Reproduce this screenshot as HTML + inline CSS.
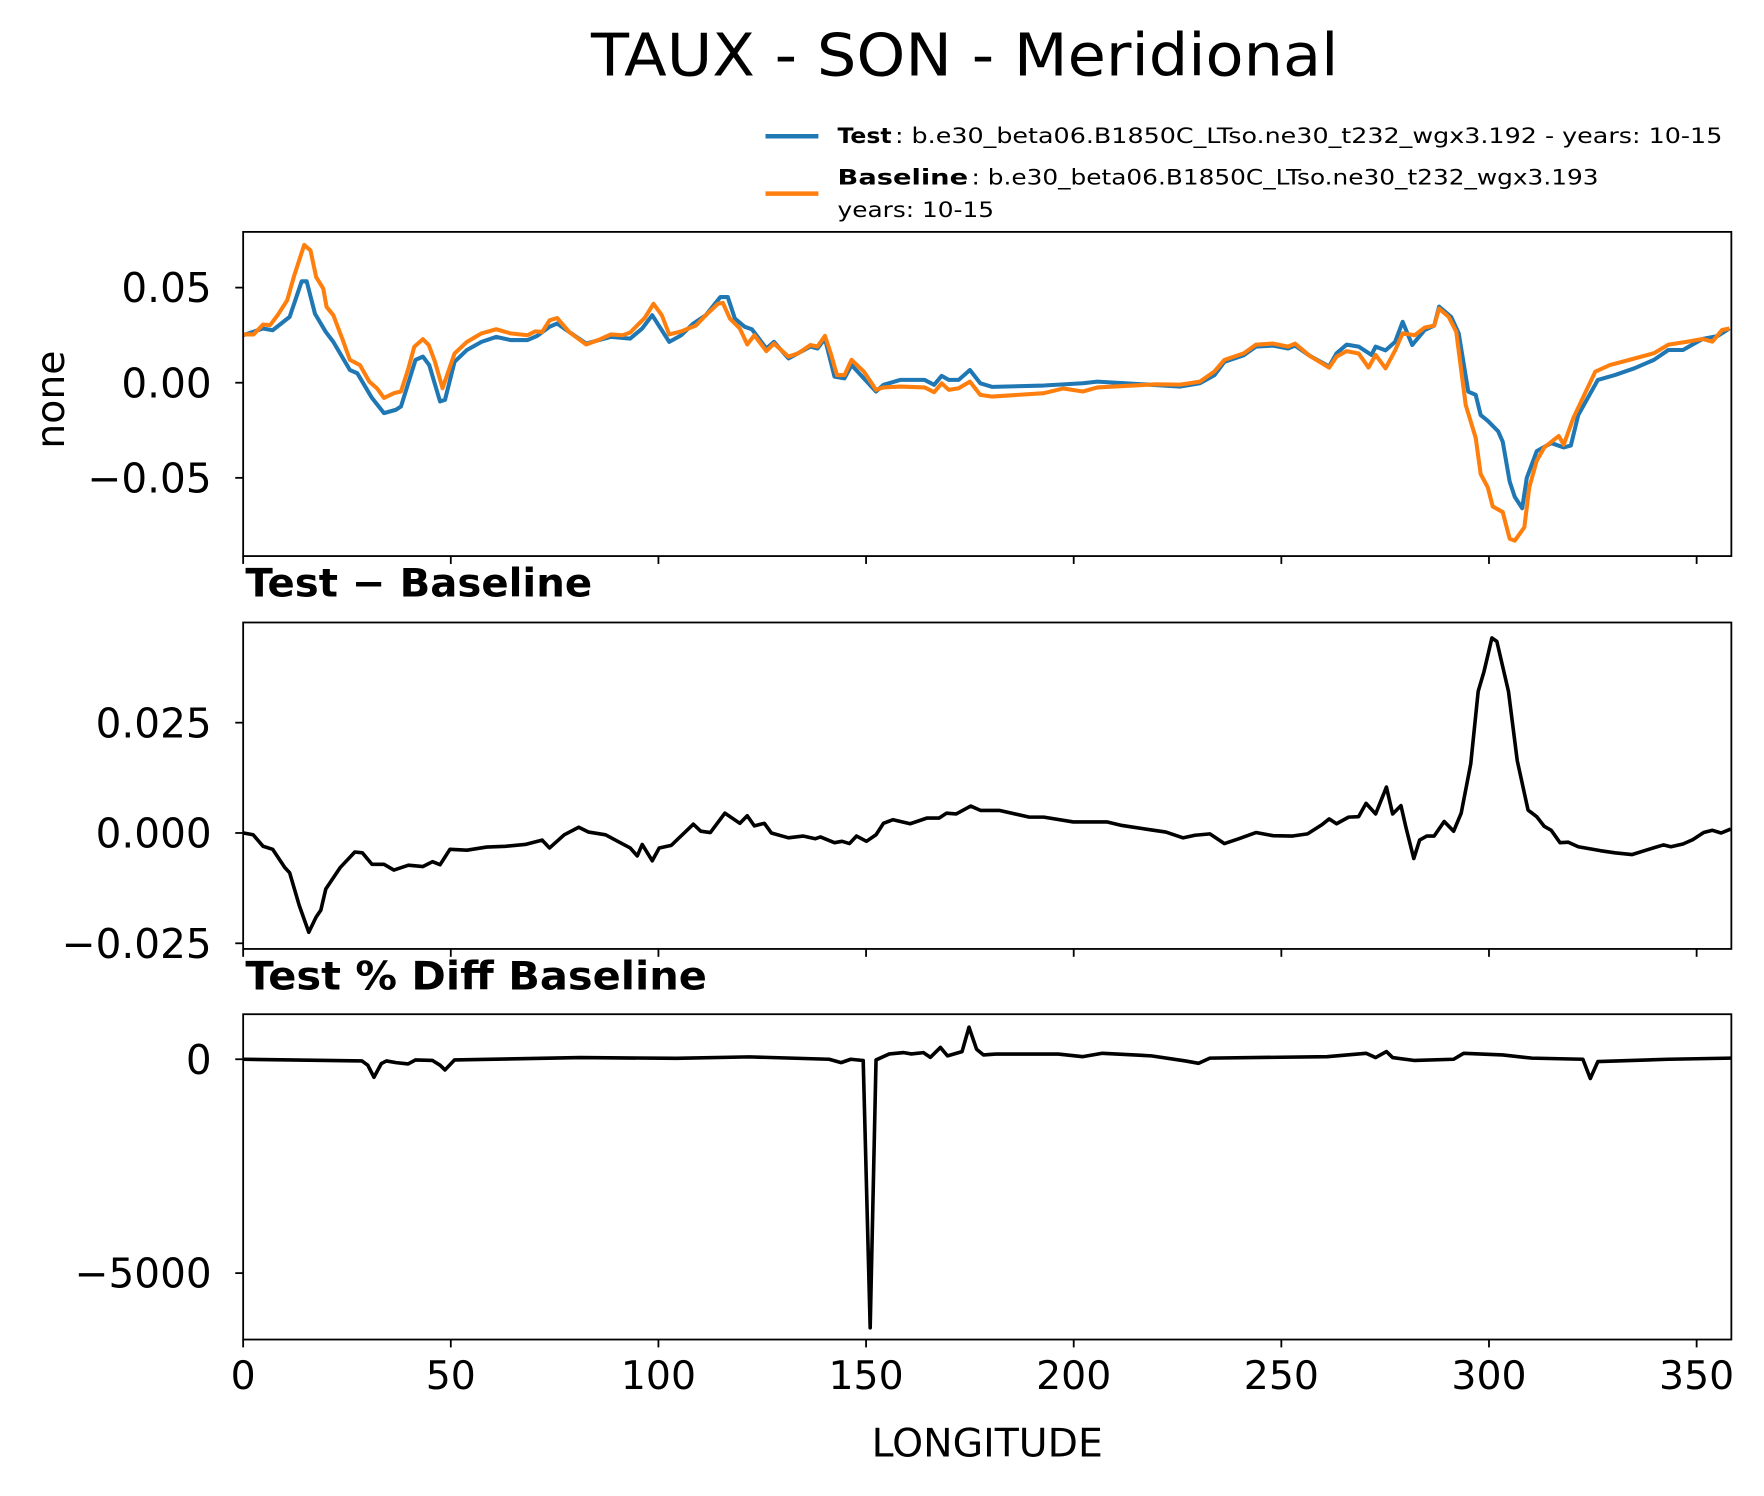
<!DOCTYPE html>
<html><head><meta charset="utf-8"><title>TAUX - SON - Meridional</title>
<style>html,body{margin:0;padding:0;background:#fff}svg{display:block;font-family:"DejaVu Sans","Liberation Sans",sans-serif}</style>
</head><body>
<svg id="fig" width="1764" height="1496" viewBox="0 0 1567 1329" preserveAspectRatio="none" xmlns="http://www.w3.org/2000/svg">
<rect x="0" y="0" width="1567" height="1329" fill="#fff"/>
<text x="857" y="67" font-size="52" text-anchor="middle" textLength="664" lengthAdjust="spacingAndGlyphs">TAUX - SON - Meridional</text>
<g>
<line x1="680" y1="121" x2="727" y2="121" stroke="#1f77b4" stroke-width="4"/>
<text x="744" y="127" font-size="19" font-weight="bold" textLength="48" lengthAdjust="spacingAndGlyphs">Test</text>
<text x="795" y="127" font-size="19" textLength="735" lengthAdjust="spacingAndGlyphs">: b.e30_beta06.B1850C_LTso.ne30_t232_wgx3.192 - years: 10-15</text>
<line x1="680" y1="172" x2="727" y2="172" stroke="#ff7f0e" stroke-width="4"/>
<text x="744" y="164" font-size="19" font-weight="bold" textLength="116" lengthAdjust="spacingAndGlyphs">Baseline</text>
<text x="863" y="164" font-size="19" textLength="557" lengthAdjust="spacingAndGlyphs">: b.e30_beta06.B1850C_LTso.ne30_t232_wgx3.193</text>
<text x="744" y="193" font-size="19" textLength="139" lengthAdjust="spacingAndGlyphs">years: 10-15</text>
</g>
<text transform="translate(57,355) rotate(-90)" font-size="35" text-anchor="middle">none</text>
<text x="218" y="530" font-size="35" font-weight="bold" textLength="308" lengthAdjust="spacingAndGlyphs">Test − Baseline</text>
<text x="218" y="879" font-size="35" font-weight="bold" textLength="410" lengthAdjust="spacingAndGlyphs">Test % Diff Baseline</text>
<text x="877" y="1294" font-size="35" text-anchor="middle">LONGITUDE</text>
<g id="plots"></g>
</svg>
<script>
// ---- data (longitude, value) ----
const testLon = [0,4.8,7.1,11.2,14.1,15.3,17.3,19.9,21.7,25.7,27.5,31,33.9,36.8,38,41.5,43.3,44.8,47.4,48.6,50.9,53.9,57.4,60.9,64.4,68.5,70.8,73.8,75.6,78.5,82.6,88.5,93.2,96.1,98.5,102.6,105.5,108.4,111.4,114.9,116.7,118.4,120.8,122.5,126,127.8,131.3,136.6,138.3,140.1,142.4,144.8,146.5,152.4,154.2,158.2,164.1,166.4,168.2,169.9,172.3,175,177.5,180.4,192.8,202.2,205.7,225.7,230.4,233.9,236.3,241,243.9,248,251.6,253.3,256.8,261.5,263.3,265.7,268.6,271.7,272.7,275.1,277.4,279.2,281.5,284.5,286.8,288,290.9,292.7,295,296.8,298,299.7,302.2,303.3,305,306.2,308,309.1,311.5,315,318,319.7,321.5,326.2,330.3,335,339.7,343.2,346.7,351.4,355,357.9];
const testVal = [0.025,0.0285,0.0276,0.0346,0.0533,0.0533,0.0363,0.0267,0.0215,0.0067,0.005,-0.008,-0.016,-0.0142,-0.0125,0.012,0.0137,0.0093,-0.0098,-0.009,0.011,0.0172,0.0215,0.0241,0.0224,0.0224,0.0246,0.0294,0.0311,0.0267,0.0206,0.0241,0.0232,0.0285,0.0355,0.0215,0.025,0.0311,0.0355,0.045,0.045,0.0337,0.0294,0.0281,0.018,0.0215,0.0128,0.019,0.018,0.0232,0.0032,0.0023,0.0093,-0.0046,-0.0011,0.0015,0.0015,-0.0011,0.0036,0.0015,0.0015,0.0067,-0.0003,-0.0022,-0.0015,-0.0003,0.0006,-0.002,-0.0003,0.004,0.011,0.0145,0.019,0.0195,0.018,0.0195,0.0142,0.0085,0.0155,0.02,0.019,0.0146,0.019,0.017,0.0215,0.032,0.0198,0.0277,0.03,0.04,0.0346,0.026,-0.0047,-0.0064,-0.017,-0.02,-0.0255,-0.031,-0.052,-0.06,-0.066,-0.05,-0.036,-0.0317,-0.034,-0.033,-0.017,0.0015,0.004,0.0076,0.012,0.0172,0.0172,0.023,0.0245,0.0285];
const baseLon = [0,2.5,4.8,6.5,8.3,10.6,12.3,14.7,16.2,17.6,19.3,20.1,21.7,24,25.7,28.1,30.4,32.2,33.9,36.3,38,39.8,41.2,43.3,44.7,46.2,48,49.4,50.9,53.9,57.4,60.9,64.4,68.5,70.3,72,73.8,75.6,78.5,82.6,85.5,88.5,91.4,93.2,94.9,96.7,98.8,100.8,102.6,105.5,107.2,109,111.4,114.3,115.5,117.2,119.6,121.4,123.1,126,127.8,131.3,133.6,136.6,138.3,140.1,141.6,143,144.8,146.5,149.5,152.4,154.2,158.2,164.1,166.4,168.2,169.9,172.3,175,177.5,180.4,192.8,197.5,202.2,205.7,219.8,225.7,230.4,233.9,236.3,241,243.9,248,251.6,253.3,256.8,261.5,263.3,265.7,268.6,271,272.7,275.1,277.4,279.2,282.1,284.5,286.8,288,290.3,292.1,294.4,296.8,298,299.7,300.9,303.3,305,306.2,308.5,309.7,311.5,313.3,316.8,318,320.3,325.6,329.1,333.8,339.7,343.2,347.9,351.4,353.8,356.1,357.9];
const baseVal = [0.0254,0.0254,0.0306,0.0303,0.0355,0.0433,0.0564,0.0724,0.0695,0.0555,0.0494,0.0398,0.0355,0.0224,0.012,0.0093,0.0006,-0.0029,-0.008,-0.0055,-0.0046,0.0076,0.0189,0.0229,0.0198,0.011,-0.0029,0.0058,0.0154,0.0215,0.0259,0.0281,0.0259,0.025,0.027,0.0267,0.0328,0.034,0.0267,0.0201,0.0224,0.0254,0.025,0.0264,0.0302,0.034,0.0415,0.0355,0.0254,0.027,0.0285,0.03,0.0355,0.0415,0.042,0.0337,0.0285,0.0201,0.025,0.0166,0.0206,0.0137,0.0154,0.0198,0.019,0.0246,0.0146,0.004,0.004,0.012,0.0058,-0.0037,-0.0025,-0.002,-0.0025,-0.005,-0.0003,-0.0037,-0.0029,0.0006,-0.0064,-0.0073,-0.0055,-0.003,-0.0046,-0.0025,-0.0008,-0.001,0.0006,0.006,0.012,0.0155,0.02,0.0206,0.019,0.0206,0.0142,0.0079,0.0137,0.0166,0.0154,0.008,0.0146,0.0076,0.017,0.026,0.025,0.029,0.03,0.039,0.0346,0.0268,-0.0116,-0.029,-0.048,-0.055,-0.065,-0.068,-0.082,-0.083,-0.076,-0.055,-0.041,-0.034,-0.028,-0.0326,-0.0186,0.0058,0.0093,0.012,0.0155,0.02,0.0216,0.023,0.0216,0.0277,0.0285];
const diffLon = [0.1,2.4,4.8,7.1,10,11.2,13.5,15.8,17.6,18.7,19.9,23.4,26.9,28.7,31,33.9,36.3,39.8,43.3,45.6,47.4,49.8,53.9,58.6,63.2,67.9,72,73.8,77.3,80.8,83.2,87.3,90.2,93.2,94.9,96.1,98.5,100.2,103.1,108.4,110.2,112.5,116,119.6,121.4,123.1,125.5,127.2,131.3,134.8,137.8,139,142.4,144.2,146,147.7,150.1,152.4,154.2,156.5,160.6,164.7,167.6,169.4,171.7,175.2,177.6,182.2,189.3,192.8,199.9,208.1,211.6,218.7,222.2,226.3,229.2,232.8,236.3,239.8,243.9,248,252.7,256.3,259.8,261.5,263.3,266.2,268.6,270.4,272.7,275.3,276.8,278.8,280,281.9,283.3,285,286.8,289.2,291.5,293.3,295.6,297.4,298.8,300.7,301.9,304.7,306.8,309.4,311.5,313.3,315,317.1,319.1,321.5,326.8,330.3,334.4,338.5,342,343.8,346.7,349.1,351.7,353.8,355.9,358.2];
const diffVal = [0,-0.0004,-0.003,-0.0037,-0.0078,-0.009,-0.0164,-0.0225,-0.019,-0.0175,-0.0127,-0.0078,-0.0043,-0.0045,-0.0071,-0.0071,-0.0084,-0.0073,-0.0076,-0.0065,-0.0072,-0.0037,-0.0039,-0.0032,-0.003,-0.0026,-0.0016,-0.0034,-0.0004,0.0013,0.0002,-0.0004,-0.0019,-0.0034,-0.0052,-0.0026,-0.0063,-0.0034,-0.0028,0.002,0.0004,0.0001,0.0045,0.0022,0.0039,0.0016,0.0022,0,-0.0011,-0.0007,-0.0013,-0.0009,-0.0022,-0.0019,-0.0024,-0.0007,-0.0019,-0.0004,0.0022,0.003,0.0021,0.0034,0.0034,0.0045,0.0043,0.0061,0.0051,0.0051,0.0036,0.0036,0.0025,0.0025,0.0017,0.0007,0.0002,-0.0011,-0.0005,-0.0002,-0.0024,-0.0013,0.0001,-0.0006,-0.0007,-0.0002,0.0019,0.0032,0.0021,0.0036,0.0037,0.0067,0.0043,0.0104,0.0043,0.0062,0.0013,-0.0058,-0.0016,-0.0007,-0.0007,0.0026,0.0004,0.0045,0.0157,0.0321,0.0366,0.0442,0.0434,0.0321,0.0164,0.0052,0.0037,0.0015,0.0006,-0.0022,-0.0021,-0.0031,-0.004,-0.0045,-0.0049,-0.0037,-0.0027,-0.0031,-0.0025,-0.0015,0.0001,0.0006,0,0.0009];
const pctLon = [0,28.6,30,31.5,33.3,34.5,36.8,39.7,41.5,45.6,47.4,48.6,50.9,81.2,104.4,121.9,141.1,144,146.3,149.3,151,152.4,155.6,159.1,160.9,163.8,165.5,167.9,169.6,173.1,174.8,176.6,178.3,181.2,196.3,202.2,206.9,218.7,226.9,230.1,232.8,261,270.4,272.7,275.3,276.8,282.1,291.5,293.9,303.3,310.3,322.6,324.4,326.2,343.2,358.2];
const pctVal = [0,-40,-140,-420,-100,-40,-80,-110,-15,-30,-140,-250,-15,40,20,55,0,-80,0,-30,-6280,-15,125,155,125,155,45,275,80,180,750,235,100,120,120,60,140,80,-40,-95,25,60,140,40,180,40,-30,0,140,100,25,0,-450,-55,0,25];
const xTicks = [0,50,100,150,200,250,300,350];
const xTickLabels = ["0","50","100","150","200","250","300","350"];
const p1Ticks = [0.05,0,-0.05];
const p1TickLabels = ["0.05","0.00","\u22120.05"];
const p2Ticks = [0.025,0,-0.025];
const p2TickLabels = ["0.025","0.000","\u22120.025"];
const p3Ticks = [0,-5000];
const p3TickLabels = ["0","\u22125000"];

const NS = "http://www.w3.org/2000/svg";
const root = document.getElementById('plots');
const X0 = 216, X1 = 1538;
const xScale = lon => X0 + lon * 3.689;
const panels = [
  {name:'mean-panel', top:206, bot:494, y:v => 340 - v*1690, ticks:p1Ticks, labels:p1TickLabels},
  {name:'diff-panel', top:553, bot:843, y:v => 740 - v*3920, ticks:p2Ticks, labels:p2TickLabels},
  {name:'pctdiff-panel', top:901, bot:1190, y:v => 941 - v*0.038, ticks:p3Ticks, labels:p3TickLabels}
];
function mk(tag, attrs){ const e = document.createElementNS(NS, tag); for (const k in attrs) e.setAttribute(k, attrs[k]); return e; }
function pathFrom(lons, vals, ys){ return lons.map((l,i)=>(i?'L':'M')+xScale(l).toFixed(1)+','+ys(vals[i]).toFixed(1)).join(''); }

panels.forEach((p, pi) => {
  const g = mk('g', {});
  
  
  const cp = mk('clipPath', {id:'clip'+pi});
  cp.appendChild(mk('rect', {x:X0, y:p.top, width:X1-X0, height:p.bot-p.top}));
  g.appendChild(cp);
  const series = pi===0 ? [[testLon,testVal,'#1f77b4','test-line'],[baseLon,baseVal,'#ff7f0e','baseline-line']]
               : pi===1 ? [[diffLon,diffVal,'#000','diff-line']] : [[pctLon,pctVal,'#000','pctdiff-line']];
  series.forEach(s => {
    const path = mk('path', {d:pathFrom(s[0], s[1], p.y), fill:'none', stroke:s[2], 'stroke-width':pi===0?3.6:3.2, 'stroke-linejoin':'round', 'clip-path':'url(#clip'+pi+')'});
    
    
    g.appendChild(path);
  });
  const frame = mk('rect', {x:X0, y:p.top, width:X1-X0, height:p.bot-p.top, fill:'none', stroke:'#000', 'stroke-width':1.6});
  
  
  g.appendChild(frame);
  p.ticks.forEach((t, i) => {
    const yy = p.y(t);
    g.appendChild(mk('line', {x1:X0-7, y1:yy, x2:X0, y2:yy, stroke:'#000', 'stroke-width':1.6}));
    const lab = mk('text', {x:X0-28, y:yy+13, 'font-size':36, 'text-anchor':'end'});
    
    
    lab.textContent = p.labels[i];
    g.appendChild(lab);
  });
  xTicks.forEach((t, i) => {
    const xx = xScale(t);
    g.appendChild(mk('line', {x1:xx, y1:p.bot, x2:xx, y2:p.bot+7, stroke:'#000', 'stroke-width':1.6}));
    if (pi === 2) {
      const lab = mk('text', {x:xx, y:1234, 'font-size':35, 'text-anchor':'middle'});
      
      
      lab.textContent = xTickLabels[i];
      g.appendChild(lab);
    }
  });
  root.appendChild(g);
});
</script>
</body></html>
